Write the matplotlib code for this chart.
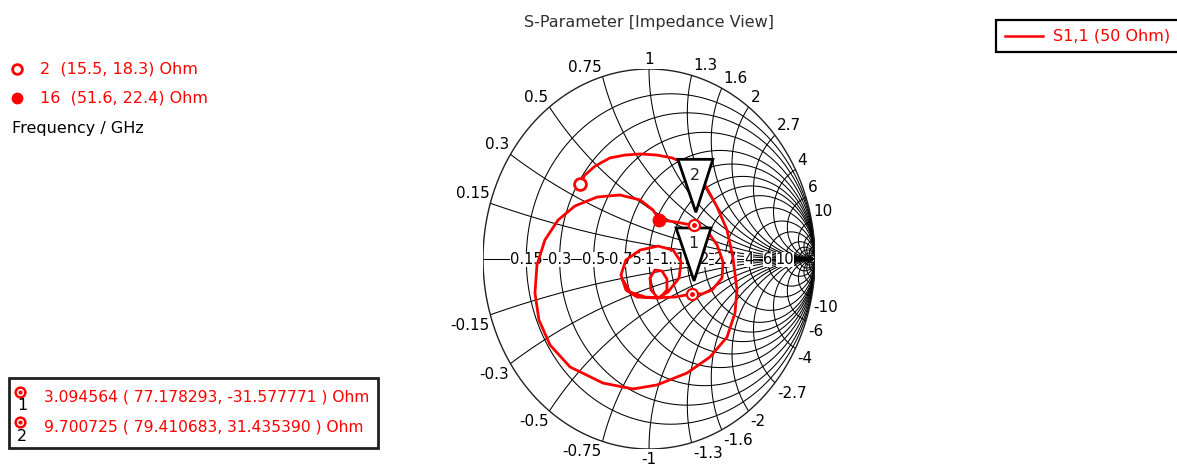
import numpy as np
import matplotlib
matplotlib.use('Agg')
import matplotlib.pyplot as plt
from matplotlib.patches import Circle, Polygon, Rectangle
from matplotlib.lines import Line2D

plt.rcParams['font.family'] = ['DejaVu Sans']

# ---------------- data ----------------
title = 'S-Parameter [Impedance View]'
trace_name = 'S1,1 (50 Ohm)'
z0 = 50.0
grid_values = [0.15, 0.3, 0.5, 0.75, 1, 1.3, 1.6, 2, 2.7, 4, 6, 10]
extra_grid = [15, 20, 30, 50]

# S11 trace (reflection coefficient)
gamma_re = [-0.416, -0.386, -0.325, -0.235, -0.145, -0.054, 0.048, 0.139, 0.235, 0.307,
            0.355, 0.410, 0.470, 0.506, 0.530, 0.518, 0.470, 0.367, 0.229, 0.048,
            -0.096, -0.277, -0.476, -0.596, -0.663, -0.687, -0.675, -0.627, -0.548, -0.446,
            -0.313, -0.175, -0.054, 0.024, 0.061, 0.157, 0.270, 0.355, 0.410, 0.446,
            0.440, 0.380, 0.319, 0.259, 0.157, 0.036, -0.072, -0.139, -0.169, -0.139,
            -0.054, 0.054, 0.145, 0.193, 0.181, 0.114, 0.054, 0.012, 0.006, 0.036,
            0.078, 0.108, 0.108, 0.066, -0.024, -0.114, -0.157]
gamma_im = [0.395, 0.442, 0.489, 0.532, 0.547, 0.553, 0.547, 0.532, 0.495, 0.432,
            0.363, 0.274, 0.153, 0.005, -0.163, -0.284, -0.411, -0.516, -0.600, -0.663,
            -0.684, -0.653, -0.568, -0.453, -0.321, -0.179, -0.032, 0.100, 0.205, 0.279,
            0.326, 0.337, 0.311, 0.258, 0.207, 0.195, 0.177, 0.142, 0.074, -0.016,
            -0.100, -0.163, -0.184, -0.184, -0.200, -0.205, -0.200, -0.163, -0.084, -0.005,
            0.047, 0.068, 0.047, -0.016, -0.100, -0.174, -0.205, -0.163, -0.100, -0.058,
            -0.063, -0.105, -0.163, -0.205, -0.200, -0.174, -0.111]

freq_labels = ['2', '16']
freq_R = [15.5, 51.6]
freq_X = [18.3, 22.4]

marker_ids = ['1', '2']
marker_freq = [3.094564, 9.700725]
marker_R = [77.178293, 79.410683]
marker_X = [-31.577771, 31.435390]

# ---------------- helpers ----------------
W, H = 1177, 469
CX, CY, RX, RY = 649, 259, 166, 190   # chart centre / radii in pixels
FS = 11.5


def z_to_gamma(R, X):
    z = complex(R, X) / z0
    g = (z - 1) / (z + 1)
    return g.real, g.imag


def fx(px):
    return px / W


def fy(py):
    return 1 - py / H


fig = plt.figure(figsize=(W / 100, H / 100), dpi=100)
ax = fig.add_axes([(CX - RX) / W, (H - CY - RY) / H, 2 * RX / W, 2 * RY / H])
ax.set_xlim(-1, 1)
ax.set_ylim(-1, 1)
ax.axis('off')

unit = Circle((0, 0), 1, transform=ax.transData, fill=False, lw=0)
ax.add_patch(unit)

t = np.linspace(0, 2 * np.pi, 1500)
gcol = '#000000'
glw = 0.75

# resistance circles
for r in grid_values + extra_grid:
    c = r / (1 + r)
    rad = 1 / (1 + r)
    ax.plot(c + rad * np.cos(t), rad * np.sin(t), color=gcol, lw=glw, zorder=1)

# reactance arcs
for xv in grid_values + extra_grid:
    for s in (1, -1):
        rad = 1 / xv
        ln, = ax.plot(1 + rad * np.cos(t), s * rad + rad * np.sin(t), color=gcol, lw=glw, zorder=1)
        ln.set_clip_path(unit)

# real axis + outer circle
ax.plot([-1, 1], [0, 0], color=gcol, lw=glw, zorder=1)
ax.plot(np.cos(t), np.sin(t), color='#202020', lw=1.0, zorder=1)

# labels on the real axis
for r in grid_values:
    g = (r - 1) / (r + 1)
    ax.text(g, 0, f'{r:g}', ha='center', va='center', zorder=3, fontsize=10.5, color='#000000',
            bbox=dict(facecolor='white', edgecolor='none', pad=0.0))

# reactance labels around the rim
for xv in grid_values:
    for s in (1, -1):
        g = (complex(0, s * xv) - 1) / (complex(0, s * xv) + 1)
        if abs(g.real) < 1e-9:
            ha = 'center'
            dx = 0
        elif g.real < 0:
            ha = 'right'
            dx = -1
        else:
            ha = 'left'
            dx = 2
        va = 'bottom' if s > 0 else 'top'
        dy = 2 if s > 0 else -3
        ax.annotate(f'{s * xv:g}', xy=(g.real, g.imag), xytext=(dx, dy),
                    textcoords='offset pixels', ha=ha, va=va, zorder=3, fontsize=11, color='#000000')

# trace
red = '#ff0000'
ax.plot(gamma_re, gamma_im, color=red, lw=2.0, zorder=4, solid_joinstyle='round')

# start / stop frequency points
sx, sy = z_to_gamma(freq_R[0], freq_X[0])
ex, ey = z_to_gamma(freq_R[1], freq_X[1])
ax.plot([sx], [sy], 'o', ms=8.5, mfc='white', mec=red, mew=2, zorder=6)
ax.plot([ex], [ey], 'o', ms=9, mfc=red, mec=red, zorder=6)

# markers with triangles
for mid, R, X in zip(marker_ids, marker_R, marker_X):
    mx, my = z_to_gamma(R, X)
    ax.plot([mx], [my], 'o', ms=8, mfc='white', mec=red, mew=1.6, zorder=7)
    ax.plot([mx], [my], 'o', ms=2.5, mfc=red, mec=red, zorder=8)
    tri = [(mx + 2 / RX, my + 13 / RY), (mx - 16 / RX, my + 66 / RY), (mx + 19 / RX, my + 66 / RY)]
    ax.add_patch(Polygon(tri, closed=True, facecolor='white', edgecolor='black', lw=2, zorder=6))
    ax.text(mx + 1 / RX, my + 50 / RY, mid, ha='center', va='center', fontsize=FS, color='#202020', zorder=7)

# title
fig.text(fx(649), fy(22), title, ha='center', va='center', fontsize=FS, color='#303030')

# legend (top right)
fig.patches.append(Rectangle((fx(996), fy(52)), (1190 - 996) / W, 32 / H, transform=fig.transFigure,
                             facecolor='white', edgecolor='black', lw=1.6, zorder=1))
fig.lines.append(Line2D([fx(1005), fx(1043)], [fy(36), fy(36)], transform=fig.transFigure, color=red, lw=1.8))
fig.text(fx(1053), fy(36), trace_name, ha='left', va='center', fontsize=FS, color=red)

# frequency point legend (top left)
fig.lines.append(Line2D([fx(17)], [fy(69)], transform=fig.transFigure, marker='o', ms=7,
                        mfc='white', mec=red, mew=2, ls='none'))
fig.lines.append(Line2D([fx(17)], [fy(98)], transform=fig.transFigure, marker='o', ms=7.5,
                        mfc=red, mec=red, ls='none'))
for i, yy in enumerate([69, 98]):
    fig.text(fx(40), fy(yy), f'{freq_labels[i]}  ({freq_R[i]}, {freq_X[i]}) Ohm', ha='left', va='center',
             fontsize=FS, color=red)
fig.text(fx(12), fy(129), 'Frequency / GHz', ha='left', va='center', fontsize=FS, color='#000000')

# marker legend (bottom left)
fig.patches.append(Rectangle((fx(9), fy(448)), (378 - 9) / W, 70 / H, transform=fig.transFigure,
                             facecolor='white', edgecolor='#202020', lw=2, zorder=1))
for i, yy in enumerate([397, 427]):
    fig.lines.append(Line2D([fx(20)], [fy(yy - 5)], transform=fig.transFigure, marker='o', ms=7,
                            mfc='white', mec=red, mew=1.8, ls='none', zorder=3))
    fig.lines.append(Line2D([fx(20)], [fy(yy - 5)], transform=fig.transFigure, marker='o', ms=2,
                            mfc=red, mec=red, ls='none', zorder=4))
    fig.text(fx(22), fy(yy + 9), marker_ids[i], ha='center', va='center', fontsize=FS, color='#000000', zorder=5)
    fig.text(fx(44), fy(yy), f'{marker_freq[i]:.6f} ( {marker_R[i]:.6f}, {marker_X[i]:.6f} ) Ohm',
             ha='left', va='center', fontsize=11.2, color=red, zorder=5)

fig.savefig('out.png', dpi=100)
